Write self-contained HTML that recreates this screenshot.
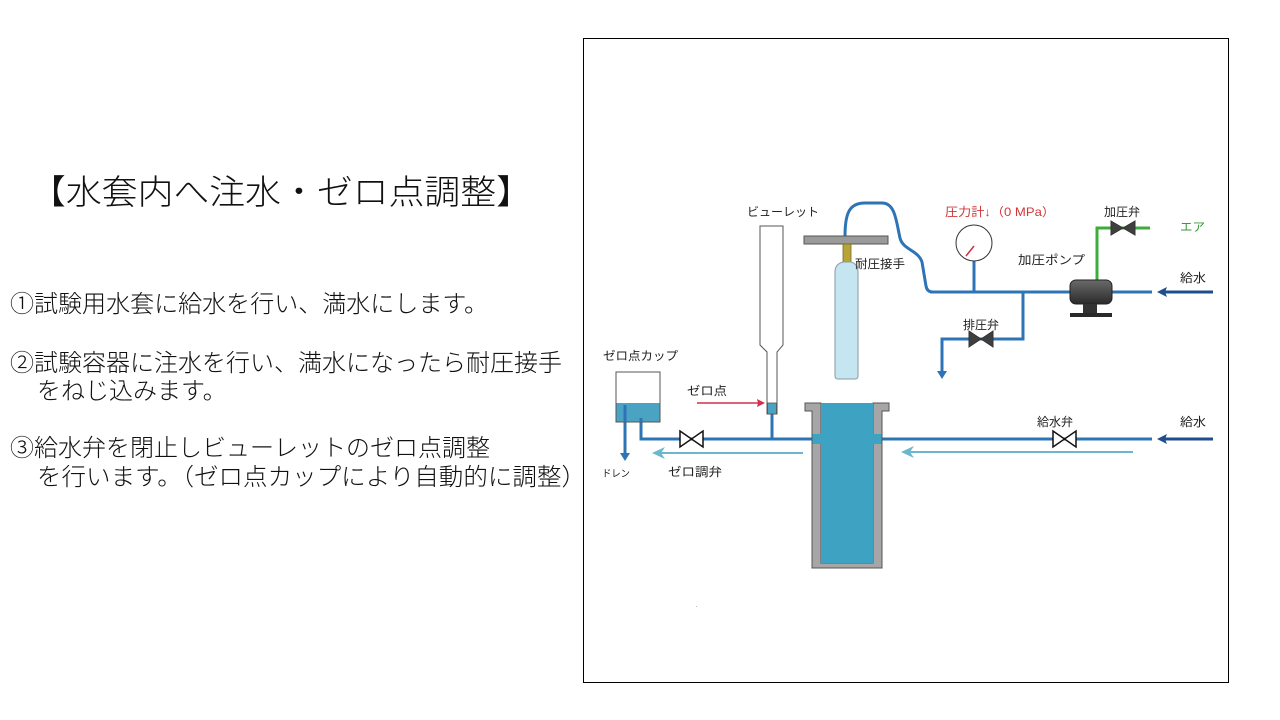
<!DOCTYPE html>
<html><head><meta charset="utf-8">
<style>
html,body{margin:0;padding:0;background:#fff;}
body{width:1280px;height:720px;overflow:hidden;}
svg{display:block;}
text{font-family:"Liberation Sans","Noto Sans CJK JP",sans-serif;}
.lt{font-weight:300;}
</style></head>
<body>
<svg width="1280" height="720" viewBox="0 0 1280 720" xmlns="http://www.w3.org/2000/svg">
<defs>
<linearGradient id="pg" x1="0" y1="0" x2="0" y2="1">
<stop offset="0" stop-color="#6a6a6a"/><stop offset="0.5" stop-color="#4a4a4a"/><stop offset="1" stop-color="#2a2a2a"/>
</linearGradient>
</defs>
<rect width="1280" height="720" fill="#fff"/>

<!-- Left text -->
<g fill="#111" class="lt">
<text x="30" y="204" font-size="34" textLength="502" lengthAdjust="spacingAndGlyphs">【水套内へ注水・ゼロ点調整】</text>
<text x="10" y="312" font-size="24" textLength="478" lengthAdjust="spacingAndGlyphs">①試験用水套に給水を行い、満水にします。</text>
<text x="10" y="371" font-size="24" textLength="552" lengthAdjust="spacingAndGlyphs">②試験容器に注水を行い、満水になったら耐圧接手</text>
<text x="37" y="399" font-size="24">をねじ込みます。</text>
<text x="10" y="456" font-size="24" textLength="480" lengthAdjust="spacingAndGlyphs">③給水弁を閉止しビューレットのゼロ点調整</text>
<text x="37" y="485" font-size="24" textLength="549" lengthAdjust="spacingAndGlyphs">を行います。（ゼロ点カップにより自動的に調整）</text>
</g>

<!-- Diagram frame -->
<rect x="583.5" y="38.5" width="645" height="644" fill="none" stroke="#000" stroke-width="1"/>

<!-- Main pipes -->
<g fill="none" stroke="#2e74b5" stroke-width="3">
<path d="M845,236 C845,212 850,203 865,203 L882,203 C895,203 896,220 900,238 C903,250 918,250 922,262 L926,286 Q927,292 933,292"/>
<path d="M930,292 L1152,292"/>
<path d="M974,261 L974,292"/>
<path d="M1023,292 L1023,339 L942,339 L942,372"/>
<path d="M641,418 L641,439 L813,439"/>
<path d="M772,414 L772,439"/>
<path d="M625,405 L625,455"/>
<path d="M882,439 L1152,439"/>
</g>
<!-- down arrowheads -->
<path d="M937,371 L947,371 L942,379 Z" fill="#2e74b5"/>
<path d="M620,453 L630,453 L625,461 Z" fill="#2e74b5"/>

<!-- Green air line -->
<path d="M1097,280 L1097,228 L1150,228" fill="none" stroke="#3cac3c" stroke-width="3"/>

<!-- Navy supply arrows -->
<g stroke="#1f4e8c" stroke-width="3" fill="none">
<path d="M1213,292 L1164,292"/>
<path d="M1213,439 L1164,439"/>
</g>
<path d="M1157,292 L1167,287 L1165,292 L1167,297 Z" fill="#1f4e8c"/>
<path d="M1157,439 L1167,434 L1165,439 L1167,444 Z" fill="#1f4e8c"/>

<!-- Light flow arrows -->
<g stroke="#6bb7cf" stroke-width="2" fill="none">
<path d="M803,453 L660,453"/>
<path d="M1133,452 L910,452"/>
</g>
<path d="M652,453 L665,447 L661,453 L665,459 Z" fill="#6bb7cf"/>
<path d="M901,452 L914,446 L910,452 L914,458 Z" fill="#6bb7cf"/>

<!-- Red zero arrow -->
<path d="M697,403 L758,403" stroke="#d0304a" stroke-width="1.5" fill="none"/>
<path d="M765,403 L757,399 L758,403 L757,407 Z" fill="#d0304a"/>

<!-- Burette -->
<path d="M760,226 L783,226 L783,345 L777,352 L777,414 L767,414 L767,352 L760,345 Z" fill="#fff" stroke="#555" stroke-width="1"/>
<rect x="767.5" y="403" width="9" height="11" fill="#4aa3c3" stroke="#555" stroke-width="0.8"/>

<!-- Plate, connector, cylinder -->
<rect x="804" y="236" width="84" height="8" fill="#9a9a9a" stroke="#555" stroke-width="1"/>
<rect x="843" y="244" width="8" height="18" fill="#b9a43a" stroke="#776a2a" stroke-width="0.8"/>
<path d="M835,376 Q835,379 838,379 L855,379 Q858,379 858,376 L858,272 Q858,264 851,262 L843,262 Q835,264 835,272 Z" fill="#c5e6f0" stroke="#8a9aa0" stroke-width="1"/>

<!-- Gauge -->
<circle cx="974" cy="243" r="18" fill="#fff" stroke="#333" stroke-width="1"/>
<line x1="966" y1="256" x2="974" y2="246" stroke="#d0303a" stroke-width="1.5"/>

<!-- Pump -->
<rect x="1070" y="280" width="42" height="24" rx="6" fill="url(#pg)" stroke="#222" stroke-width="1"/>
<rect x="1083" y="304" width="14" height="9" fill="#333"/>
<rect x="1070" y="313" width="42" height="4" fill="#2a2a2a"/>

<!-- Valves -->
<path d="M1111,221 L1135,235 L1135,221 L1111,235 Z" fill="#3f3f3f" stroke="#333" stroke-width="1"/>
<path d="M969,331 L993,347 L993,331 L969,347 Z" fill="#3f3f3f" stroke="#333" stroke-width="1"/>
<path d="M680,431 L703,447 L703,431 L680,447 Z" fill="#fff" stroke="#111" stroke-width="1.5"/>
<path d="M1053,431 L1076,447 L1076,431 L1053,447 Z" fill="#fff" stroke="#111" stroke-width="1.5"/>

<!-- Zero cup -->
<rect x="616" y="372" width="44" height="50" fill="#fff" stroke="#555" stroke-width="1"/>
<rect x="616.5" y="403" width="43" height="18.5" fill="#4aa3c3"/>
<path d="M625,405 L625,422" stroke="#2e74b5" stroke-width="3"/>
<path d="M641,418 L641,422" stroke="#2e74b5" stroke-width="3"/>

<!-- Vessel -->
<path d="M805,403 L821,403 L821,563 L873,563 L873,403 L889,403 L889,411 L882,411 L882,568 L812,568 L812,411 L805,411 Z" fill="#a6a6a6" stroke="#555" stroke-width="1"/>
<rect x="821" y="403" width="52" height="160" fill="#3ea3c2"/>
<rect x="812.5" y="434" width="8.5" height="10" fill="#3ea3c2"/>
<rect x="873" y="434" width="8.5" height="10" fill="#3ea3c2"/>

<!-- tiny dot -->
<rect x="696" y="606" width="1" height="1" fill="#bbb"/>

<!-- Diagram labels -->
<g fill="#222" font-size="12">
<text x="783" y="216" text-anchor="middle">ビューレット</text>
<text x="855" y="268" textLength="50" lengthAdjust="spacingAndGlyphs">耐圧接手</text>
<text x="1122" y="216" text-anchor="middle">加圧弁</text>
<text x="1018" y="264" textLength="67" lengthAdjust="spacingAndGlyphs">加圧ポンプ</text>
<text x="1180" y="282" textLength="26" lengthAdjust="spacingAndGlyphs">給水</text>
<text x="981" y="329" text-anchor="middle">排圧弁</text>
<text x="603" y="360" textLength="75" lengthAdjust="spacingAndGlyphs">ゼロ点カップ</text>
<text x="687" y="395" textLength="40" lengthAdjust="spacingAndGlyphs">ゼロ点</text>
<text x="1055" y="426" text-anchor="middle">給水弁</text>
<text x="1180" y="426" textLength="26" lengthAdjust="spacingAndGlyphs">給水</text>
<text x="668" y="476" textLength="54" lengthAdjust="spacingAndGlyphs">ゼロ調弁</text>
<text x="602" y="477" font-size="10" textLength="28" lengthAdjust="spacingAndGlyphs">ドレン</text>
</g>
<text x="945" y="216" font-size="12" fill="#d0383a" textLength="110" lengthAdjust="spacingAndGlyphs">圧力計↓（0 MPa）</text>
<text x="1180" y="231" font-size="12" fill="#3a9a3a" textLength="25" lengthAdjust="spacingAndGlyphs">エア</text>
</svg>
</body></html>
